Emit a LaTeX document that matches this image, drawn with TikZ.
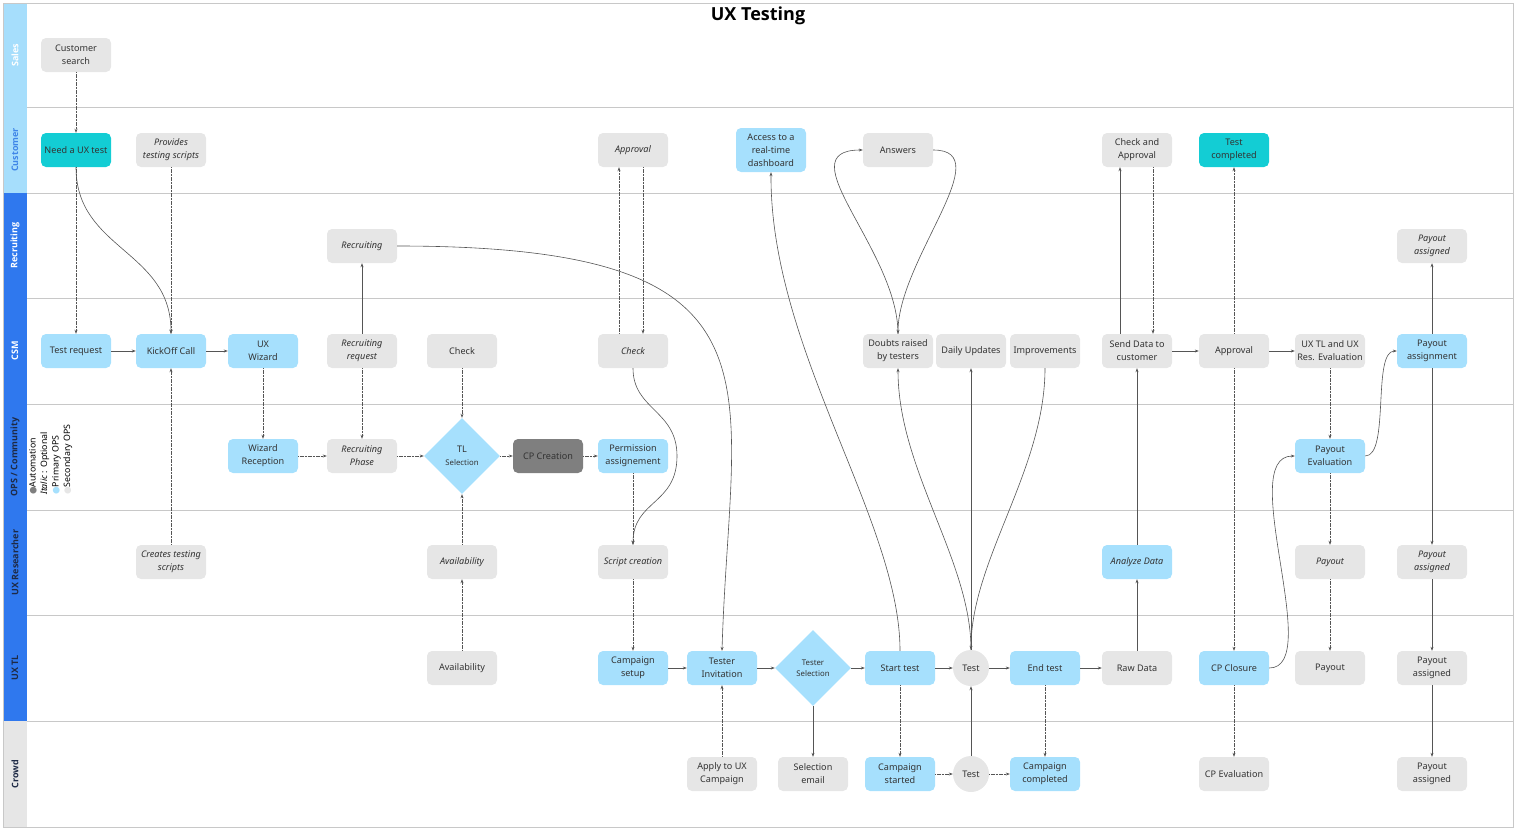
\documentclass[tikz,border=0pt]{standalone}
\usepackage{fontspec}
\setmainfont{Noto Sans}
\newfontfamily\symfont{DejaVu Sans}
\newfontfamily\headfont{Open Sans}
\usetikzlibrary{arrows.meta,shapes.geometric}
\definecolor{LaneLine}{HTML}{C8C8C8}
\definecolor{LaneLight}{HTML}{A6DEFC}
\definecolor{LaneDark}{HTML}{2F78EE}
\definecolor{LaneGray}{HTML}{E6E6E6}
\definecolor{LaneCust}{HTML}{3F86E8}
\definecolor{LaneInk}{HTML}{1E2A45}
\definecolor{PrimBlue}{HTML}{A6E0FD}
\definecolor{CyanBox}{HTML}{13CDD4}
\definecolor{SecGray}{HTML}{E6E6E6}
\definecolor{AutoGray}{HTML}{7F7F7F}
\definecolor{InkText}{HTML}{333333}
\definecolor{FlowLine}{HTML}{555555}
\tikzset{>={Stealth[length=4pt,width=3pt]},every node/.style={font=\fontsize{9.1}{13}\selectfont,
 text=InkText},box/.style={rounded corners=5pt,minimum width=70pt,minimum height=34pt,
 align=center,inner sep=1pt},prim/.style={box,fill=PrimBlue},sec/.style={box,fill=SecGray},
 cust/.style={box,fill=CyanBox},autobox/.style={box,fill=AutoGray},
 opt/.style={font=\fontsize{9.1}{13}\selectfont\itshape},
 choice/.style={diamond,fill=PrimBlue,minimum width=76pt,minimum height=76pt,inner sep=0pt,
 align=center},testdot/.style={circle,fill=SecGray,minimum size=36pt,inner sep=0pt},
 flow/.style={draw=FlowLine,line width=0.6pt,->},flowd/.style={flow,dash pattern=on 1.2pt off 0.4pt},
 lanetag/.style={rotate=90,font=\headfont\fontsize{9}{11}\selectfont\bfseries}}

\begin{document}
\begin{tikzpicture}[x=1pt,y=-1pt]
\useasboundingbox (0,0) rectangle (1516,830);
\foreach \ya/\yb/\lname/\lfill/\link [count=\i] in {3/107/Sales/LaneLight/white,
 107/193/Customer/LaneLight/LaneCust,193/298/Recruiting/LaneDark/white,298/404/CSM/LaneDark/white,
 404/510/{OPS / Community}/LaneDark/LaneInk,510/615/UX Researcher/LaneDark/LaneInk,
 615/721/UX TL/LaneDark/LaneInk,721/827/Crowd/LaneGray/LaneInk}{
 \fill[\lfill] (3,\ya) rectangle (27,\yb);
 \draw[LaneLine,line width=1pt] (3,\yb) -- (1513,\yb);
 \node[lanetag,text=\link] (lane\i) at (15,{(\ya+\yb)/2}) {\lname};
}
\draw[LaneLine,line width=1pt] (3,3) rectangle (1513,827);
\node[font=\headfont\fontsize{18}{21}\selectfont\bfseries,text=black] (title) at (758,16) {UX Testing};
\node[rotate=90,anchor=north west,align=left,inner sep=0pt,font=\fontsize{8.8}{11.5}\selectfont,
 text=black] (legend) at (29,495) {{\symfont\textcolor{AutoGray}{●}}Automation\\
 \textit{Italic} : Optional\\{\symfont\textcolor{PrimBlue}{●}}Primary OPS\\
 {\symfont\textcolor{SecGray}{●}}Secondary OPS};

\node[sec] (cs) at (76,55) {Customer\\search};

\node[cust] (need) at (76,150) {Need a UX test};
\node[sec,opt] (provides) at (171,150) {Provides\\testing scripts};
\node[sec,opt] (approval1) at (633,150) {Approval};
\node[prim,minimum height=44pt] (access) at (771,150) {Access to a\\real-time\\dashboard};
\node[sec] (answers) at (898,150) {Answers};
\node[sec] (checkapp) at (1137,150) {Check and\\Approval};
\node[cust] (testcomp) at (1234,150) {Test\\completed};

\node[sec,opt] (recruiting) at (362,246) {Recruiting};
\node[sec,opt] (payassigned1) at (1432,246) {Payout\\assigned};

\node[prim] (testreq) at (76,351) {Test request};
\node[prim] (kickoff) at (171,351) {KickOff Call};
\node[prim] (uxwiz) at (263,351) {UX\\Wizard};
\node[sec,opt] (recreq) at (362,351) {Recruiting\\request};
\node[sec] (check1) at (462,351) {Check};
\node[sec,opt] (check2) at (633,351) {Check};
\node[sec] (doubts) at (898,351) {Doubts raised\\by testers};
\node[sec] (daily) at (971,351) {Daily Updates};
\node[sec] (improv) at (1045,351) {Improvements};
\node[sec] (senddata) at (1137,351) {Send Data to\\customer};
\node[sec] (approval2) at (1234,351) {Approval};
\node[sec] (uxtleval) at (1330,351) {UX TL and UX\\Res. Evaluation};
\node[prim] (payassign) at (1432,351) {Payout\\assignment};

\node[prim] (wizrec) at (263,456) {Wizard\\Reception};
\node[sec,opt] (recphase) at (362,456) {Recruiting\\Phase};
\node[choice] (tlsel) at (462,456) {TL\\{\fontsize{7.8}{9}\selectfont Selection}};
\node[autobox] (cpcreation) at (548,456) {CP Creation};
\node[prim] (perm) at (633,456) {Permission\\assignement};
\node[prim] (payeval) at (1330,456) {Payout\\Evaluation};

\node[sec,opt] (creates) at (171,562) {Creates testing\\scripts};
\node[sec,opt] (avail1) at (462,562) {Availability};
\node[sec,opt] (script) at (633,562) {Script creation};
\node[prim,opt] (analyze) at (1137,562) {Analyze Data};
\node[sec,opt] (payout1) at (1330,562) {Payout};
\node[sec,opt] (payassigned2) at (1432,562) {Payout\\assigned};

\node[sec] (avail2) at (462,668) {Availability};
\node[prim] (campsetup) at (633,668) {Campaign\\setup};
\node[prim] (testerinv) at (722,668) {Tester\\Invitation};
\node[choice,font=\fontsize{7.8}{10.5}\selectfont] (testersel) at (813,668) {Tester\\Selection};
\node[prim] (starttest) at (900,668) {Start test};
\node[testdot] (test1) at (971,668) {Test};
\node[prim] (endtest) at (1045,668) {End test};
\node[sec] (rawdata) at (1137,668) {Raw Data};
\node[prim] (cpclosure) at (1234,668) {CP Closure};
\node[sec] (payout2) at (1330,668) {Payout};
\node[sec] (payassigned3) at (1432,668) {Payout\\assigned};

\node[sec] (apply) at (722,774) {Apply to UX\\Campaign};
\node[sec] (selemail) at (813,774) {Selection\\email};
\node[prim] (campstarted) at (900,774) {Campaign\\started};
\node[testdot] (test2) at (971,774) {Test};
\node[prim] (campcompleted) at (1045,774) {Campaign\\completed};
\node[sec] (cpeval) at (1234,774) {CP Evaluation};
\node[sec] (payassigned4) at (1432,774) {Payout\\assigned};

\draw[flowd] (cs) -- (need);
\draw[flowd] (need) -- (testreq);
\draw[flow] (need.south) .. controls (76,250) and (171,250) .. (kickoff.north);
\draw[flowd] (provides) -- (kickoff);
\draw[flowd] (creates) -- (kickoff);
\draw[flow] (testreq) -- (kickoff);
\draw[flow] (kickoff) -- (uxwiz);
\draw[flowd] (uxwiz) -- (wizrec);
\draw[flowd] (wizrec) -- (recphase);
\draw[flow] (recreq) -- (recruiting);
\draw[flowd] (recreq) -- (recphase);
\draw[flow] (recruiting.east) .. controls (800,246) and (730,380) .. (testerinv.north);
\draw[flowd] (check1) -- (tlsel);
\draw[flowd] (recphase) -- (tlsel);
\draw[flowd] (avail1) -- (tlsel);
\draw[flowd] (avail2) -- (avail1);
\draw[flowd] (tlsel) -- (cpcreation);
\draw[flowd] (cpcreation) -- (perm);
\draw[flowd] (perm) -- (script);
\draw[flow] (check2.south) .. controls (633,410) and (677,410) .. (677,456)
 .. controls (677,505) and (633,500) .. (script.north);
\draw[flowd] ([xshift=-14pt]check2.north) -- ([xshift=-14pt]approval1.south);
\draw[flowd] ([xshift=10pt]approval1.south) -- ([xshift=10pt]check2.north);
\draw[flowd] (script) -- (campsetup);
\draw[flow] (campsetup) -- (testerinv);
\draw[flowd] (apply) -- (testerinv);
\draw[flow] (testerinv) -- (testersel);
\draw[flow] (testersel) -- (selemail);
\draw[flow] (testersel) -- (starttest);
\draw[flow] (starttest.north) .. controls (900,520) and (770,350) .. (access.south);
\draw[flowd] (starttest) -- (campstarted);
\draw[flow] (starttest) -- (test1);
\draw[flow] (test1) -- (endtest);
\draw[flowd] (campstarted) -- (test2);
\draw[flowd] (test2) -- (campcompleted);
\draw[flow] (test2) -- (test1);
\draw[flowd] (endtest) -- (campcompleted);
\draw[flow] (test1.north) .. controls (971,560) and (898,470) .. (doubts.south);
\draw[flow] (test1) -- (daily);
\draw[flow] (improv.south) .. controls (1045,470) and (971,560) .. (test1.north);
\draw[flow] (doubts.north) .. controls (898,250) and (785,150) .. (answers.west);
\draw[flow] (answers.east) .. controls (1000,150) and (898,260) .. (doubts.north);
\draw[flow] (endtest) -- (rawdata);
\draw[flow] (rawdata) -- (analyze);
\draw[flow] (analyze) -- (senddata);
\draw[flow] ([xshift=-17pt]senddata.north) -- ([xshift=-17pt]checkapp.south);
\draw[flowd] ([xshift=16pt]checkapp.south) -- ([xshift=16pt]senddata.north);
\draw[flow] (senddata) -- (approval2);
\draw[flowd] (approval2) -- (testcomp);
\draw[flowd] (approval2) -- (cpclosure);
\draw[flow] (approval2) -- (uxtleval);
\draw[flowd] (uxtleval) -- (payeval);
\draw[flowd] (payeval) -- (payout1);
\draw[flowd] (payout1) -- (payout2);
\draw[flowd] (cpclosure) -- (cpeval);
\draw[flow] (cpclosure.east) .. controls (1325,668) and (1235,456) .. (payeval.west);
\draw[flow] (payeval.east) .. controls (1390,456) and (1372,351) .. (payassign.west);
\draw[flow] (payassign) -- (payassigned1);
\draw[flow] (payassign) -- (payassigned2);
\draw[flow] (payassigned2) -- (payassigned3);
\draw[flow] (payassigned3) -- (payassigned4);
\end{tikzpicture}
\end{document}
